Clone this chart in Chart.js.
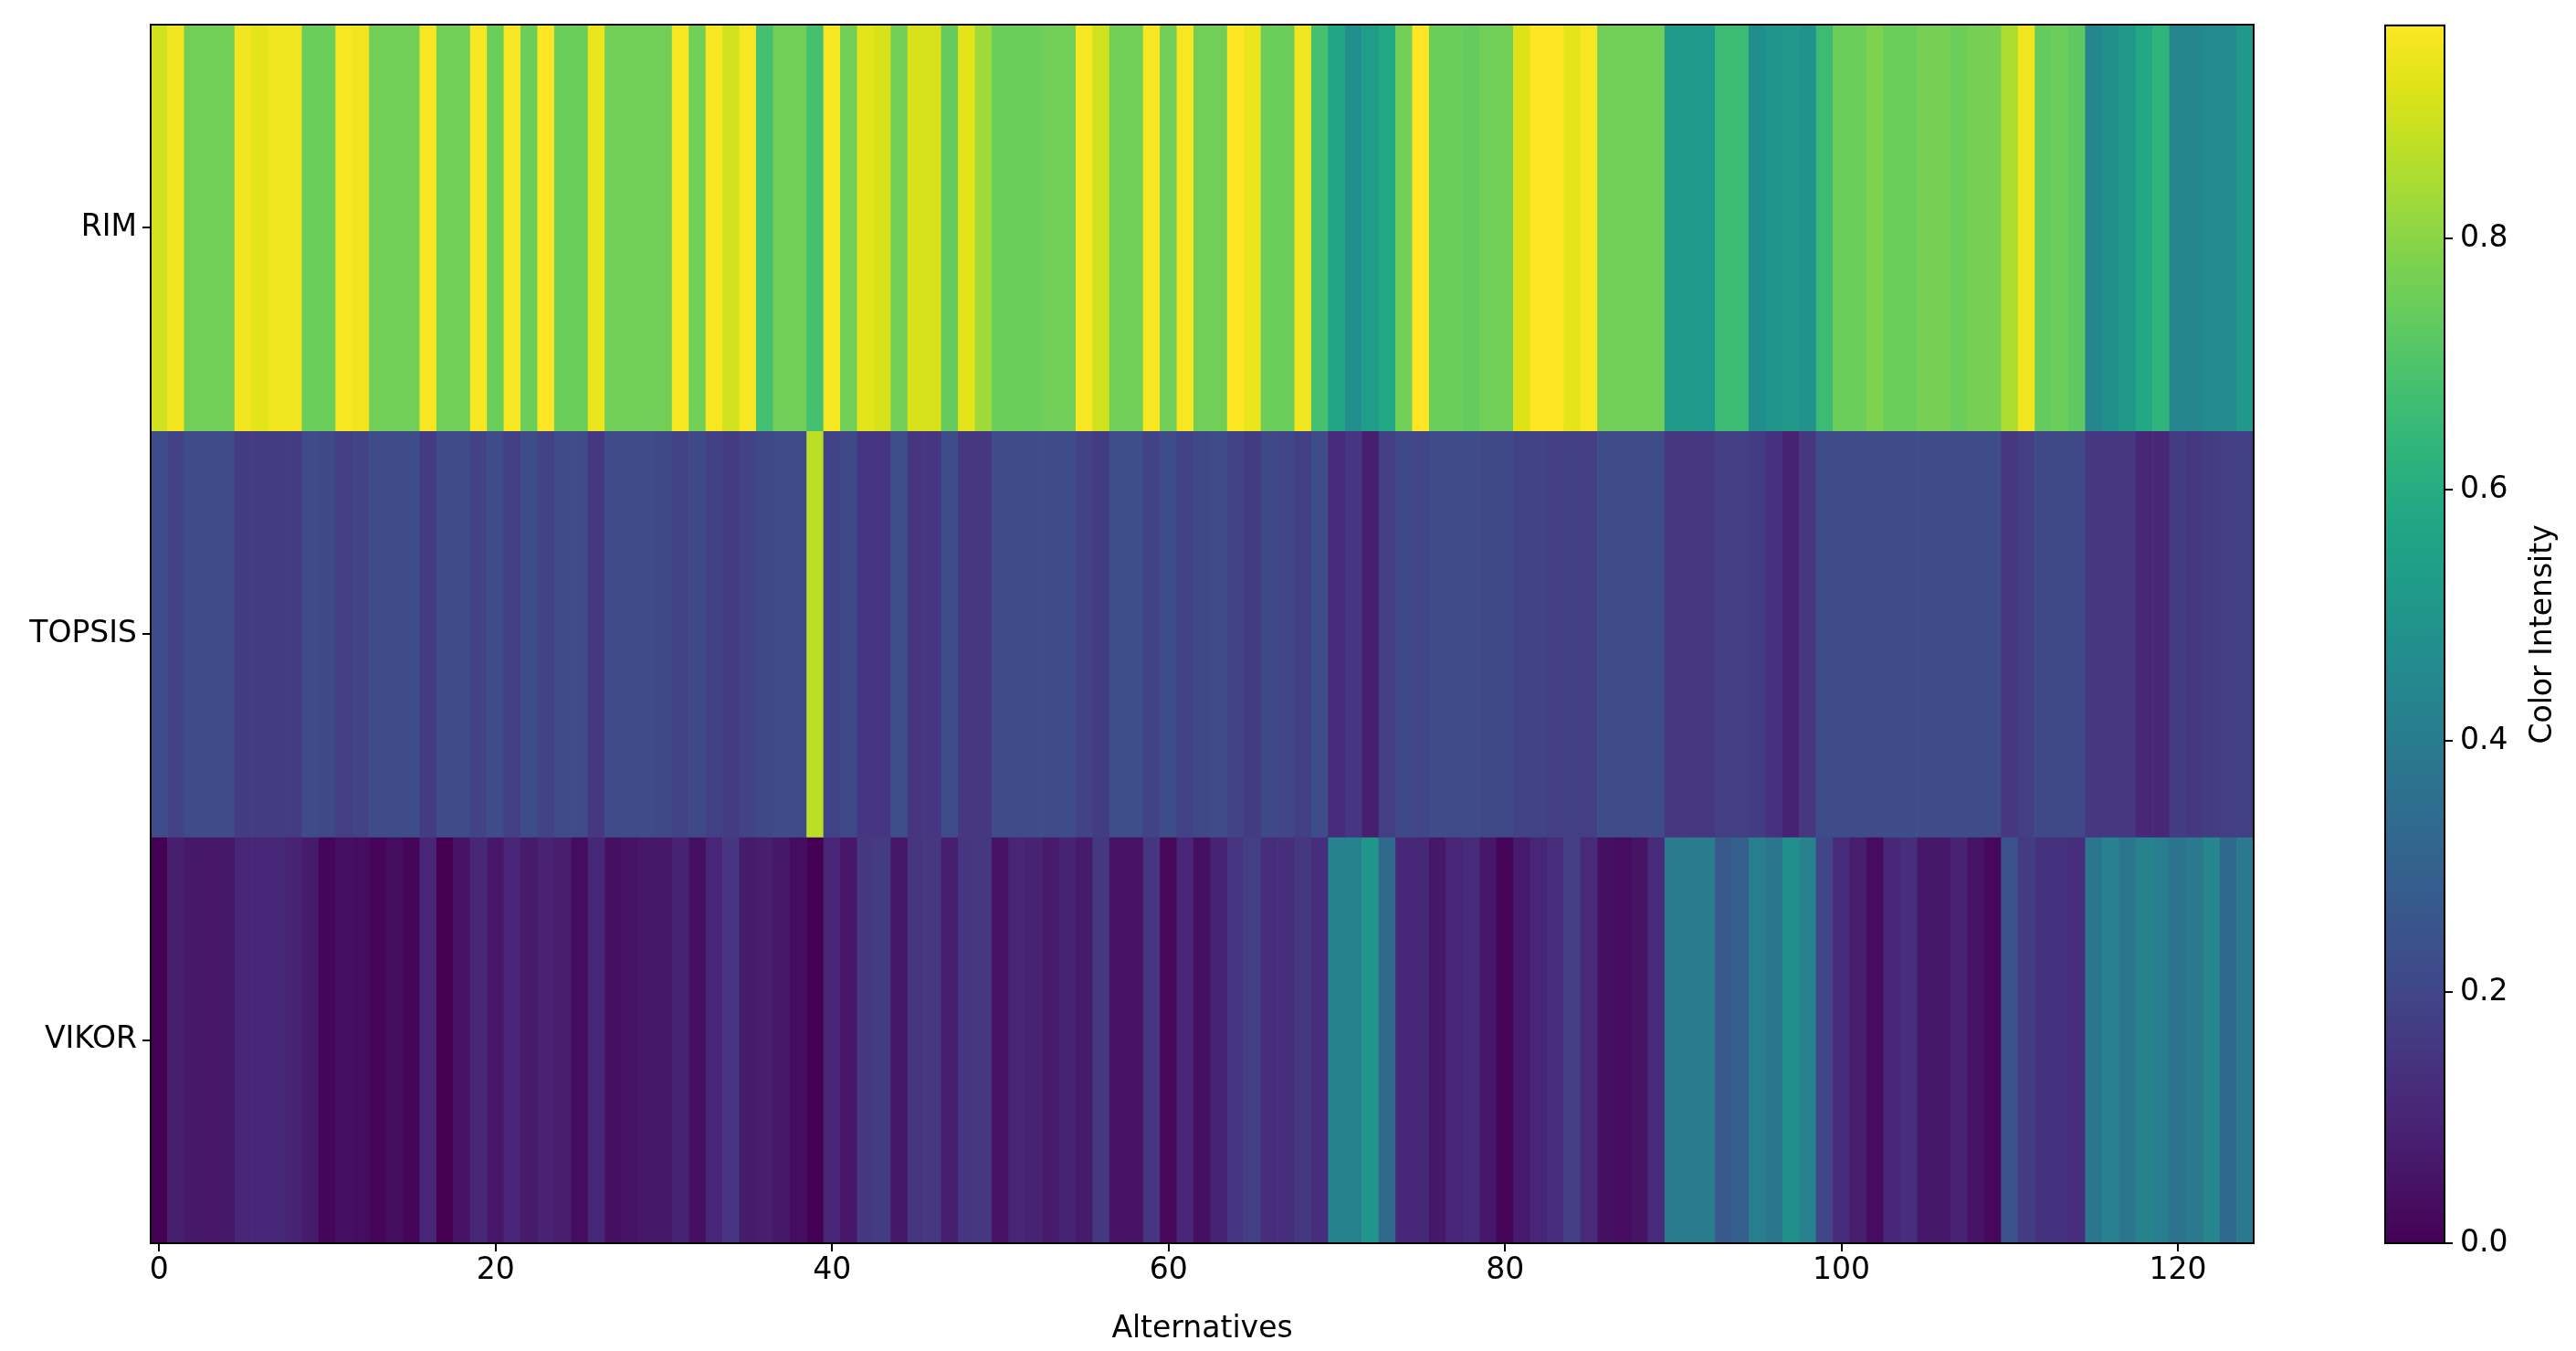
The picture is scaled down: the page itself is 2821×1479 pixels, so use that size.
<!DOCTYPE html>
<html>
<head>
<meta charset="utf-8">
<script src="https://cdn.jsdelivr.net/npm/chart.js@4"></script>
<style>
  body { margin: 0; background: #fff; }
  #main { position: absolute; left: 0; top: 0; }
  #cbar { position: absolute; left: 2560px; top: 0; }
</style>
</head>
<body>
<canvas id="main" width="2560" height="1479"></canvas>
<canvas id="cbar" width="261" height="1479"></canvas>
<script>
const methods = ['RIM', 'TOPSIS', 'VIKOR'];
const xTicks = [0, 20, 40, 60, 80, 100, 120];
const cbarTicks = [0, 0.2, 0.4, 0.6, 0.8];
const vmin = 0, vmax = 0.97;

const rim = [
  0.90,0.95,0.76,0.76,0.76,0.95,0.93,0.95,0.95,0.75,0.75,0.96,0.95,0.76,0.76,0.76,0.96,0.76,0.76,0.96,
  0.75,0.96,0.75,0.97,0.75,0.75,0.94,0.76,0.76,0.76,0.76,0.96,0.76,0.96,0.90,0.96,0.68,0.76,0.76,0.68,
  0.96,0.76,0.93,0.91,0.76,0.91,0.91,0.74,0.93,0.83,0.75,0.75,0.75,0.76,0.76,0.96,0.90,0.76,0.76,0.96,
  0.76,0.96,0.76,0.76,0.97,0.94,0.75,0.75,0.95,0.68,0.57,0.48,0.53,0.58,0.76,0.97,0.75,0.75,0.74,0.76,
  0.76,0.92,0.97,0.97,0.93,0.96,0.76,0.76,0.76,0.76,0.52,0.52,0.52,0.66,0.66,0.47,0.50,0.51,0.49,0.66,
  0.75,0.75,0.78,0.75,0.75,0.77,0.77,0.75,0.77,0.77,0.85,0.95,0.74,0.75,0.73,0.44,0.48,0.51,0.58,0.63,
  0.44,0.44,0.46,0.46,0.51
];
const topsis = [
  0.22,0.19,0.22,0.22,0.22,0.17,0.17,0.17,0.17,0.22,0.21,0.18,0.19,0.22,0.22,0.22,0.17,0.22,0.22,0.19,
  0.22,0.18,0.22,0.19,0.22,0.22,0.16,0.22,0.22,0.22,0.21,0.19,0.21,0.18,0.17,0.19,0.21,0.22,0.22,0.87,
  0.19,0.21,0.15,0.15,0.23,0.15,0.15,0.22,0.16,0.16,0.22,0.22,0.22,0.22,0.22,0.19,0.17,0.23,0.23,0.19,
  0.22,0.19,0.21,0.22,0.19,0.17,0.21,0.20,0.18,0.22,0.12,0.15,0.08,0.18,0.21,0.20,0.22,0.22,0.22,0.21,
  0.21,0.19,0.19,0.18,0.18,0.18,0.22,0.22,0.22,0.22,0.16,0.16,0.16,0.18,0.18,0.17,0.14,0.09,0.16,0.22,
  0.22,0.22,0.22,0.22,0.22,0.22,0.22,0.22,0.22,0.22,0.16,0.18,0.21,0.21,0.21,0.16,0.16,0.16,0.11,0.11,
  0.17,0.16,0.17,0.18,0.18
];
const vikor = [
  0.00,0.08,0.06,0.06,0.06,0.10,0.11,0.11,0.09,0.07,0.01,0.04,0.03,0.01,0.03,0.01,0.10,0.00,0.05,0.11,
  0.06,0.10,0.07,0.09,0.08,0.03,0.11,0.04,0.05,0.06,0.06,0.09,0.04,0.10,0.15,0.07,0.08,0.06,0.03,0.00,
  0.10,0.06,0.16,0.17,0.06,0.15,0.16,0.08,0.15,0.16,0.05,0.10,0.09,0.07,0.09,0.07,0.16,0.05,0.05,0.15,
  0.02,0.10,0.04,0.09,0.15,0.18,0.13,0.13,0.16,0.13,0.43,0.43,0.50,0.33,0.11,0.11,0.06,0.10,0.12,0.06,
  0.01,0.07,0.10,0.13,0.18,0.12,0.04,0.03,0.05,0.12,0.40,0.40,0.40,0.27,0.29,0.41,0.38,0.48,0.42,0.20,
  0.12,0.08,0.03,0.11,0.13,0.06,0.06,0.09,0.05,0.02,0.24,0.17,0.14,0.14,0.13,0.38,0.42,0.38,0.43,0.41,
  0.37,0.39,0.44,0.33,0.39
];
const rows = [rim, topsis, vikor];

// viridis anchor colours
const viridis = ['#440154','#471365','#482475','#46337f','#414487','#3b528b','#355f8d','#2f6c8e','#2a788e','#25858e','#21918c',
  '#1f9e89','#22a884','#2fb47c','#44bf70','#5ec962','#7ad151','#9bd93c','#bddf26','#dfe318','#fde725'];

function hex(h) { return [1,3,5].map(i => parseInt(h.substr(i, 2), 16)); }
function colorFor(v) {
    let t = Math.max(0, Math.min(1, (v - vmin) / (vmax - vmin))) * (viridis.length - 1);
    const i = Math.min(Math.floor(t), viridis.length - 2), f = t - i;
    const a = hex(viridis[i]), b = hex(viridis[i + 1]);
    return `rgb(${a.map((c, k) => Math.round(c + (b[k] - c) * f)).join(',')})`;
}

const font = { family: 'DejaVu Sans', size: 33 };
const labels = rim.map((_, i) => i);

const frame = {
    id: 'frame',
    afterDraw(chart) {
        const a = chart.chartArea, ctx = chart.ctx;
        ctx.save();
        ctx.strokeStyle = '#000';
        ctx.lineWidth = 2;
        ctx.strokeRect(a.left, a.top, a.right - a.left, a.bottom - a.top);
        ctx.restore();
    }
};

new Chart(document.getElementById('main'), {
    type: 'bar',
    data: {
        labels: labels,
        datasets: rows.map((vals, r) => ({
            label: methods[r],
            data: vals.map(() => [r - 0.5, r + 0.5]),
            backgroundColor: vals.map(colorFor),
            borderWidth: 0,
            barPercentage: 1,
            categoryPercentage: 1,
            grouped: false
        }))
    },
    options: {
        responsive: false,
        animation: false,
        devicePixelRatio: 1,
        layout: { padding: { left: 0, top: 27, right: 92, bottom: 0 } },
        plugins: { legend: { display: false }, tooltip: { enabled: false } },
        scales: {
            x: {
                afterFit: s => { s.height = 118; },
                afterBuildTicks: s => { s.ticks = xTicks.map(v => ({ value: v })); },
                grid: { display: true, drawOnChartArea: false, offset: false, color: '#000', tickLength: 9, lineWidth: 2 },
                border: { display: false },
                ticks: {
                    color: '#000', font: font, maxRotation: 0, autoSkip: false, padding: 2,
                    callback: v => String(v)
                },
                title: { display: true, text: 'Alternatives', color: '#000', font: font, padding: { top: 0 } }
            },
            y: {
                min: -0.5, max: 2.5, reverse: true,
                afterFit: s => { s.width = 165; },
                afterBuildTicks: s => { s.ticks = methods.map((_, i) => ({ value: i })); },
                grid: { display: true, drawOnChartArea: false, color: '#000', tickLength: 9, lineWidth: 2 },
                border: { display: false },
                ticks: { color: '#000', font: font, padding: 6, callback: v => methods[v] }
            }
        }
    },
    plugins: [frame]
});

const gradient = {
    id: 'gradient',
    beforeDatasetsDraw(chart) {
        const a = chart.chartArea, ctx = chart.ctx, y = chart.scales.y;
        for (let py = Math.floor(a.top); py < a.bottom; py++) {
            ctx.fillStyle = colorFor(y.getValueForPixel(py + 0.5));
            ctx.fillRect(a.left, py, a.right - a.left, 1);
        }
    },
    afterDraw(chart) {
        const a = chart.chartArea, ctx = chart.ctx;
        ctx.save();
        ctx.translate(225, (a.top + a.bottom) / 2);
        ctx.rotate(-Math.PI / 2);
        ctx.font = `${font.size}px ${font.family}`;
        ctx.fillStyle = '#000';
        ctx.textAlign = 'center';
        ctx.textBaseline = 'middle';
        ctx.fillText('Color Intensity', 0, 0);
        ctx.restore();
    }
};

new Chart(document.getElementById('cbar'), {
    type: 'scatter',
    data: { datasets: [{ data: [] }] },
    options: {
        responsive: false,
        animation: false,
        devicePixelRatio: 1,
        layout: { padding: { left: 52, top: 27, right: 0, bottom: 118 } },
        plugins: { legend: { display: false }, tooltip: { enabled: false } },
        scales: {
            x: { display: false, min: 0, max: 1 },
            y: {
                position: 'right', min: vmin, max: vmax,
                afterFit: s => { s.width = 144; },
                afterBuildTicks: s => { s.ticks = cbarTicks.map(v => ({ value: v })); },
                grid: { display: true, drawOnChartArea: false, color: '#000', tickLength: 9, lineWidth: 2 },
                border: { display: false },
                ticks: { color: '#000', font: font, padding: 8, callback: v => v.toFixed(1) }
            }
        }
    },
    plugins: [gradient, frame]
});
</script>
</body>
</html>
